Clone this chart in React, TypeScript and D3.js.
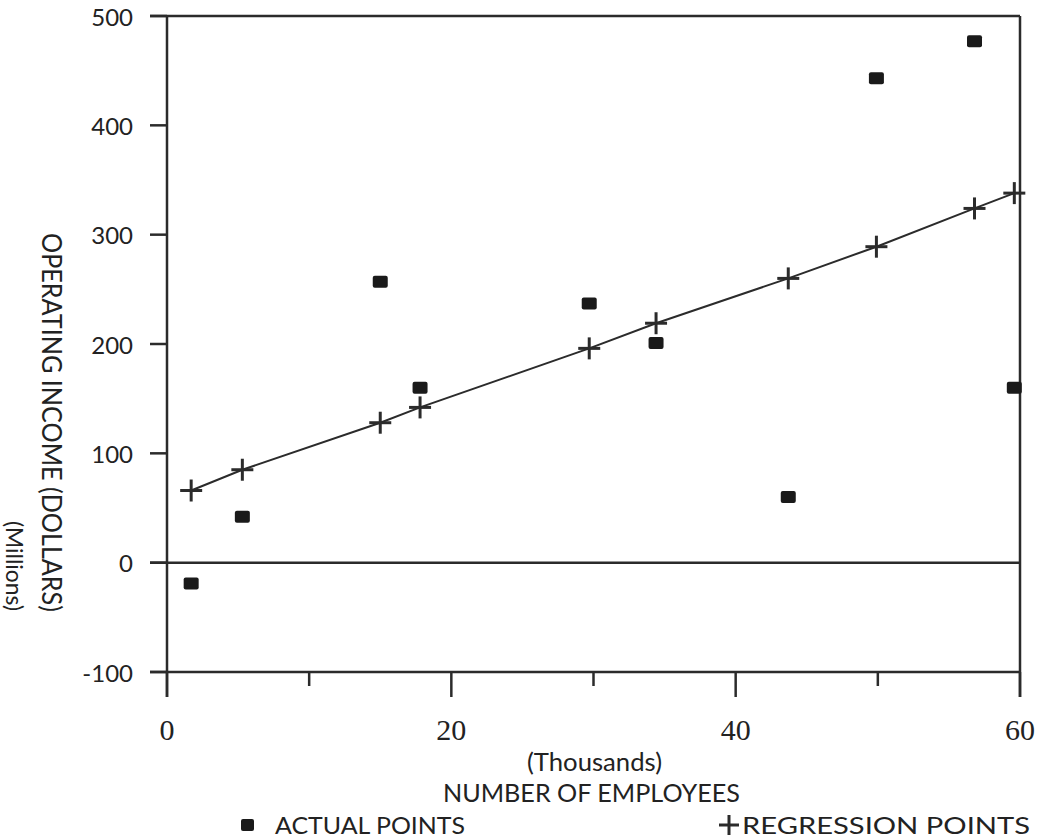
import React from "react";
import * as d3 from "d3";

const employees = [1.7, 5.3, 15.0, 17.8, 29.7, 34.4, 43.7, 49.9, 56.8, 59.6];
const actualIncome = [-19, 42, 257, 160, 237, 201, 60, 443, 477, 160];
const regressionIncome = [66, 85, 128, 142, 196, 219, 260, 289, 324, 338];
const xMajorTicks = [0, 20, 40, 60];
const xMinorTicks = [10, 30, 50];
const yTicks = [-100, 0, 100, 200, 300, 400, 500];

const W = 1046;
const H = 840;
const INK = "#2b2b2b";
const FONT = "Lato, 'Open Sans', 'DejaVu Sans', sans-serif";

export default function App() {
  const x = d3.scaleLinear().domain([0, 60]).range([167, 1020]);
  const y = d3.scaleLinear().domain([-100, 500]).range([672, 16]);
  const x0 = x(0);
  const x1 = x(60);
  const yBottom = y(-100);
  const yTop = y(500);

  const pts = employees.map((e, i) => ({ e, a: actualIncome[i], r: regressionIncome[i] }));
  const line = d3
    .line<{ e: number; r: number }>()
    .x((d) => x(d.e))
    .y((d) => y(d.r));

  const plus = (cx: number, cy: number, s: number, key?: string | number) => (
    <g key={key} stroke={INK} strokeWidth={3}>
      <line x1={cx - s} x2={cx + s} y1={cy} y2={cy} />
      <line x1={cx} x2={cx} y1={cy - s} y2={cy + s} />
    </g>
  );

  const fitted = { lengthAdjust: "spacingAndGlyphs" as const };

  return (
    <svg
      width={W}
      height={H}
      style={{ position: "absolute", left: 0, top: 0, background: "#fff" }}
      fontFamily={FONT}
    >
      <rect x={0} y={0} width={W} height={H} fill="#fff" />
      {/* frame */}
      <g stroke={INK} strokeWidth={2.5} fill="none">
        <line x1={x0} x2={x0} y1={yTop} y2={yBottom + 25} />
        <line x1={x1} x2={x1} y1={yTop} y2={yBottom + 25} />
        <line x1={150} x2={x1} y1={yTop} y2={yTop} />
        <line x1={150} x2={x1} y1={yBottom} y2={yBottom} />
        <line x1={150} x2={x1} y1={y(0)} y2={y(0)} />
        {yTicks.map((t) => (
          <line key={t} x1={150} x2={x0} y1={y(t)} y2={y(t)} />
        ))}
        {xMajorTicks.map((t) => (
          <line key={t} x1={x(t)} x2={x(t)} y1={yBottom} y2={yBottom + 25} />
        ))}
        {xMinorTicks.map((t) => (
          <line key={t} x1={x(t)} x2={x(t)} y1={yBottom} y2={yBottom + 14} />
        ))}
      </g>

      {/* y tick labels */}
      {yTicks.map((t) => (
        <text
          key={t}
          x={133}
          y={y(t)}
          textAnchor="end"
          dominantBaseline="central"
          fontSize={24}
          fill="#222"
        >
          {t}
        </text>
      ))}

      {/* x tick labels */}
      {xMajorTicks.map((t) => (
        <text
          key={t}
          x={x(t)}
          y={729}
          textAnchor="middle"
          dominantBaseline="central"
          fontSize={30}
          fontFamily="'Liberation Serif', serif"
          fill="#222"
        >
          {t}
        </text>
      ))}

      {/* axis titles */}
      <text x={527} y={761} dominantBaseline="central" fontSize={25} fill="#222" textLength={135} {...fitted}>
        (Thousands)
      </text>
      <text x={443} y={792} dominantBaseline="central" fontSize={25} fill="#222" textLength={297} {...fitted}>
        NUMBER OF EMPLOYEES
      </text>
      <text
        transform="translate(52,233) rotate(90)"
        dominantBaseline="central"
        fontSize={27}
        fill="#222"
        textLength={379}
        {...fitted}
      >
        OPERATING INCOME (DOLLARS)
      </text>
      <text
        transform="translate(15,521) rotate(90)"
        dominantBaseline="central"
        fontSize={24}
        fill="#222"
        textLength={90}
        {...fitted}
      >
        (Millions)
      </text>

      {/* regression line */}
      <path d={line(pts) || ""} fill="none" stroke={INK} strokeWidth={2} />
      {pts.map((d, i) => plus(x(d.e), y(d.r), 11, "p" + i))}

      {/* actual points */}
      {pts.map((d, i) => (
        <rect
          key={"a" + i}
          x={x(d.e) - 7.5}
          y={y(d.a) - 6}
          width={15}
          height={12}
          rx={2}
          fill="#1a1a1a"
        />
      ))}

      {/* legend */}
      <rect x={241} y={819} width={13} height={12} rx={2} fill="#1a1a1a" />
      <text x={275} y={834} fontSize={23} fill="#222" textLength={190} {...fitted}>
        ACTUAL POINTS
      </text>
      {plus(729, 825, 10)}
      <text x={742} y={834} fontSize={23} fill="#222" textLength={288} {...fitted}>
        REGRESSION POINTS
      </text>
    </svg>
  );
}
